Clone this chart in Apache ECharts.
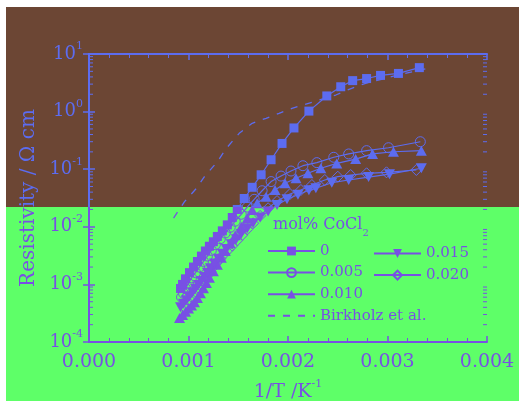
<!doctype html>
<html>
<head>
<meta charset="utf-8">
<title>Resistivity vs 1/T</title>
<script src="https://cdn.jsdelivr.net/npm/echarts@6/dist/echarts.min.js"></script>
<style>
    body { margin: 0; background: #fff; }
    .bg { position: absolute; left: 6px; width: 513px; }
    .pane { position: absolute; left: 0; top: 0; width: 519px; height: 401px; }
</style>
</head>
<body>
<div class="bg" style="top:7px;height:200px;background:#6c4634"></div>
<div class="bg" style="top:207px;height:194px;background:#5eff68"></div>
<div id="upper" class="pane" style="clip-path:inset(0 0 194px 0)"></div>
<div id="lower" class="pane" style="clip-path:inset(207px 0 0 0)"></div>

<script type="text/javascript">
    // [1/T (K^-1), resistivity (ohm cm)]
    var s0 = [[0.00092,0.00085],[0.00094,0.0010],[0.00097,0.00125],[0.00101,0.0016],[0.00105,0.0020],[0.00109,0.0025],
        [0.00113,0.0031],[0.00117,0.0038],[0.00121,0.0046],[0.00125,0.0055],[0.00129,0.0068],[0.00134,0.0085],
        [0.00139,0.0108],[0.00144,0.0145],[0.00149,0.020],[0.00156,0.031],[0.00164,0.0485],[0.00173,0.080],
        [0.00183,0.146],[0.00194,0.28],[0.00206,0.52],[0.00221,1.02],[0.00239,1.87],[0.00253,2.7],
        [0.00265,3.45],[0.00279,3.75],[0.00293,4.25],[0.00311,4.6],[0.00332,5.8]];
    var s005 = [[0.00093,0.0006],[0.00095,0.0007],[0.00097,0.00085],[0.00100,0.00105],[0.00103,0.0013],[0.00107,0.0016],
        [0.00111,0.0020],[0.00115,0.0025],[0.00119,0.0031],[0.00123,0.0039],[0.00127,0.0049],[0.00132,0.0062],
        [0.00137,0.0078],[0.00142,0.0098],[0.00147,0.0125],[0.00153,0.0165],[0.00159,0.022],[0.00166,0.030],
        [0.00174,0.0423],[0.00183,0.061],[0.00193,0.076],[0.00203,0.093],[0.00215,0.115],[0.00229,0.13],
        [0.00246,0.161],[0.00261,0.184],[0.00279,0.21],[0.00301,0.236],[0.00333,0.30]];
    var s010 = [[0.00091,0.00026],[0.00094,0.000295],[0.00097,0.000335],[0.00100,0.00038],[0.00103,0.00043],
        [0.00106,0.00049],[0.00109,0.00058],[0.00112,0.0007],[0.00115,0.00086],[0.00118,0.00106],[0.00121,0.0013],
        [0.00125,0.0017],[0.00129,0.0022],[0.00133,0.0029],[0.00137,0.0038],[0.00142,0.0052],[0.00147,0.0071],
        [0.00153,0.0100],[0.00159,0.0140],[0.00164,0.0195],[0.00169,0.0256],[0.00178,0.0333],[0.00187,0.0435],
        [0.00197,0.057],[0.00208,0.0695],[0.00220,0.085],[0.00233,0.104],[0.00249,0.126],[0.00268,0.150],
        [0.00285,0.184],[0.00306,0.201],[0.00334,0.2095]];
    var s015 = [[0.00092,0.0004],[0.00095,0.00046],[0.00098,0.00053],[0.00101,0.00062],[0.00104,0.00072],
        [0.00107,0.00084],[0.00110,0.00098],[0.00113,0.00115],[0.00116,0.00135],[0.00119,0.0016],[0.00122,0.0019],
        [0.00126,0.0023],[0.00130,0.0028],[0.00134,0.0034],[0.00138,0.0041],[0.00143,0.0050],[0.00148,0.0061],
        [0.00153,0.0075],[0.00159,0.0093],[0.00165,0.0115],[0.00172,0.0145],[0.00180,0.0185],[0.00189,0.024],
        [0.00199,0.030],[0.00210,0.036],[0.00221,0.043],[0.00228,0.0466],[0.00244,0.0583],[0.00261,0.065],
        [0.00281,0.073],[0.00302,0.082],[0.00334,0.104]];
    var s020 = [[0.00095,0.00042],[0.00098,0.00048],[0.00101,0.00055],[0.00104,0.00064],[0.00107,0.00075],
        [0.00110,0.00087],[0.00113,0.00102],[0.00116,0.0012],[0.00119,0.00142],[0.00122,0.00168],[0.00125,0.0020],
        [0.00128,0.00235],[0.00132,0.0028],[0.00136,0.0034],[0.00140,0.0040],[0.00144,0.0047],[0.00149,0.0058],
        [0.00154,0.0072],[0.00159,0.0090],[0.00165,0.0115],[0.00172,0.0155],[0.00180,0.021],[0.00189,0.028],
        [0.00202,0.0371],[0.00213,0.0436],[0.00224,0.0532],[0.00237,0.065],[0.00250,0.0741],[0.00263,0.0793],
        [0.00279,0.0849],[0.00299,0.0883],[0.00329,0.0969]];
    var birkholz = [[0.00085,0.0142],[0.00096,0.0273],[0.00108,0.0466],[0.00116,0.074],[0.00129,0.135],
        [0.00138,0.23],[0.00151,0.42],[0.00164,0.627],[0.00178,0.766],[0.00191,0.933],[0.00204,1.14],
        [0.00248,1.94],[0.00264,2.54],[0.00278,3.1],[0.00294,3.64],[0.00311,4.32],[0.00338,5.5]];

    var names = ['0', '0.005', '0.010', '0.015', '0.020', 'Birkholz et al.'];
    var decades = [1e-4, 1e-3, 1e-2, 1e-1, 1];   // where the log minor ticks go
    var FONT = 'DejaVu Serif';

    function minorTicks(col) {
        return function (params, api) {
            var cs = params.coordSys;
            var base = api.value(1);
            var kids = [];
            for (var k = 2; k < 10; k++) {
                var y = api.coord([0, base * k])[1];
                kids.push({type: 'line', shape: {x1: cs.x, y1: y, x2: cs.x + 4, y2: y}, style: {stroke: col, lineWidth: 1}});
                kids.push({type: 'line', shape: {x1: cs.x + cs.width - 4, y1: y, x2: cs.x + cs.width, y2: y}, style: {stroke: col, lineWidth: 1}});
            }
            return {type: 'group', children: kids};
        };
    }

    function buildOption(col) {
        var line = {color: col, width: 1.2};
        var hollow = {color: 'transparent', borderColor: col, borderWidth: 1};
        var legText = {fontFamily: FONT, fontSize: 15, color: col, lineHeight: 16};
        var xCommon = {
            type: 'value', min: 0, max: 0.004, interval: 0.001,
            axisLine: {lineStyle: {color: col, width: 2}},
            axisTick: {inside: true, length: 6, lineStyle: {color: col, width: 1.5}},
            minorTick: {show: true, splitNumber: 5, length: 4, lineStyle: {color: col, width: 1}},
            splitLine: {show: false}
        };
        var yCommon = {
            type: 'log', logBase: 10, min: 1e-4, max: 10,
            axisLine: {lineStyle: {color: col, width: 2}},
            axisTick: {inside: true, length: 6, lineStyle: {color: col, width: 1.5}},
            splitLine: {show: false}
        };
        return {
            animation: false,
            title: {
                text: '{a|mol% CoCl}{b|2}',
                left: 268, top: 212,
                textStyle: {fontWeight: 'normal', rich: {
                    a: {fontFamily: FONT, fontSize: 16, fontWeight: 'normal', color: col, lineHeight: 20, verticalAlign: 'top'},
                    b: {fontFamily: FONT, fontSize: 10, fontWeight: 'normal', color: col, lineHeight: 10, padding: [11, 0, 0, 0], verticalAlign: 'top'}
                }}
            },
            legend: [{
                data: ['0', '0.005', '0.010', {name: 'Birkholz et al.', itemStyle: {opacity: 0}}],
                orient: 'vertical', left: 262, top: 238,
                itemWidth: 47, itemHeight: 11, itemGap: 5.6,
                textStyle: legText
            }, {
                data: ['0.015', '0.020'],
                orient: 'vertical', left: 368, top: 240.5,
                itemWidth: 47, itemHeight: 11, itemGap: 5.6,
                textStyle: legText
            }],
            grid: {left: 89, top: 54, width: 398, height: 288, containLabel: false, outerBoundsMode: 'none'},
            xAxis: [Object.assign({}, xCommon, {
                position: 'bottom',
                name: '1/T /K{s|-1}',
                nameLocation: 'middle', nameGap: 37,
                nameTextStyle: {rich: {
                    b: {fontFamily: FONT, fontSize: 19, color: col},
                    s: {fontFamily: FONT, fontSize: 11, color: col, verticalAlign: 'top', lineHeight: 12}
                }, fontFamily: FONT, fontSize: 19, color: col, lineHeight: 26},
                axisLabel: {
                    margin: 11, fontFamily: FONT, fontSize: 19, color: col,
                    formatter: function (v) { return v.toFixed(3); }
                }
            }), Object.assign({}, xCommon, {position: 'top', axisLabel: {show: false}})],
            yAxis: [Object.assign({}, yCommon, {
                position: 'left',
                name: 'Resistivity / Ω cm',
                nameLocation: 'middle', nameGap: 48,
                nameTextStyle: {fontFamily: FONT, fontSize: 20, color: col},
                axisLabel: {
                    margin: 6,
                    formatter: function (v) {
                        var e = Math.round(Math.log(v) / Math.LN10);
                        return '{b|10}{s|' + e + '}';
                    },
                    rich: {
                        b: {fontFamily: FONT, fontSize: 18, color: col, lineHeight: 26},
                        s: {fontFamily: FONT, fontSize: 11, color: col, lineHeight: 12, verticalAlign: 'top'}
                    }
                }
            }), Object.assign({}, yCommon, {position: 'right', axisLabel: {show: false}})],
            series: [{
                name: names[0], type: 'line', data: s0,
                symbol: 'rect', symbolSize: 9,
                itemStyle: {color: col}, lineStyle: line
            }, {
                name: names[1], type: 'line', data: s005,
                symbol: 'circle', symbolSize: 10,
                itemStyle: hollow, lineStyle: line
            }, {
                name: names[2], type: 'line', data: s010,
                symbol: 'triangle', symbolSize: [11, 10],
                itemStyle: {color: col}, lineStyle: line
            }, {
                name: names[3], type: 'line', data: s015,
                symbol: 'path://M0,0L2,0L1,1.8Z', symbolSize: [11, 10],
                itemStyle: {color: col}, lineStyle: line
            }, {
                name: names[4], type: 'line', data: s020,
                symbol: 'diamond', symbolSize: 11,
                itemStyle: hollow, lineStyle: line
            }, {
                name: names[5], type: 'line', data: birkholz,
                symbol: 'none', smooth: false,
                itemStyle: {color: col},
                lineStyle: {color: col, width: 1.3, type: [7, 8]}
            }, {
                type: 'custom', silent: true,
                renderItem: minorTicks(col),
                data: decades.map(function (d) { return [0, d]; })
            }]
        };
    }

    var upperChart = echarts.init(document.getElementById('upper'));
    upperChart.setOption(buildOption('#5c6cf0'));
    var lowerChart = echarts.init(document.getElementById('lower'));
    lowerChart.setOption(buildOption('#7850e4'));
</script>
</body>
</html>
